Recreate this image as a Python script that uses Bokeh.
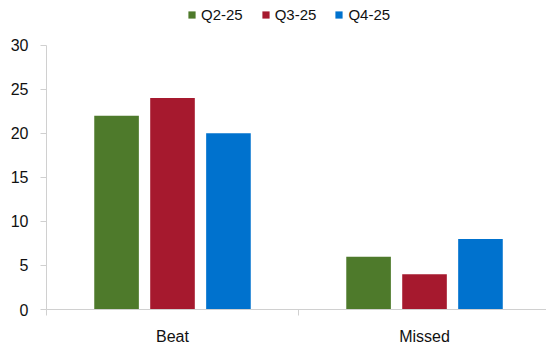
from bokeh.plotting import figure
from bokeh.models import ColumnDataSource, Range1d, FixedTicker, Legend, LegendItem
from bokeh.transform import dodge
from bokeh.embed import file_html
from bokeh.resources import INLINE

categories = ["Beat", "Missed"]
series = ["Q2-25", "Q3-25", "Q4-25"]
q2_25 = [22, 6]
q3_25 = [24, 4]
q4_25 = [20, 8]
colors = ["#4E7A2B", "#A6192E", "#0072CE"]
y_ticks = [0, 5, 10, 15, 20, 25, 30]

centers = [i + 0.5 for i in range(len(categories))]
source = ColumnDataSource(dict(x=centers, cat=categories,
                               q2=q2_25, q3=q3_25, q4=q4_25))

y_max = 30
# extra headroom above the axis so the legend fits inside the frame
y_top = y_max * 311 / 266

p = figure(width=546, height=347, output_backend="svg", toolbar_location=None,
           x_range=Range1d(0, 1.984), y_range=Range1d(0, y_top),
           min_border_left=46, min_border_right=0, min_border_top=0,
           min_border_bottom=36)
p.outline_line_color = None
p.xgrid.visible = False
p.ygrid.visible = False

step = 0.222
width = 0.177
renderers = []
for k, (field, col) in enumerate(zip(["q2", "q3", "q4"], colors)):
    r = p.vbar(x=dodge("x", (k - 1) * step, range=p.x_range), top=field,
               width=width, source=source, fill_color=col, line_color=None)
    renderers.append(r)

font = "Liberation Sans"
axis_col = "#D0D0D0"

p.yaxis.ticker = FixedTicker(ticks=y_ticks)
p.yaxis.bounds = (0, y_max)
p.yaxis.axis_line_color = axis_col
p.yaxis.major_tick_line_color = axis_col
p.yaxis.major_tick_out = 6
p.yaxis.major_tick_in = 0
p.yaxis.minor_tick_line_color = None
p.yaxis.major_label_text_font = font
p.yaxis.major_label_text_font_size = "16px"
p.yaxis.major_label_text_color = "#111111"
p.yaxis.major_label_standoff = 12

p.xaxis.ticker = FixedTicker(ticks=centers, minor_ticks=[0, 1, 2])
p.xaxis.major_label_overrides = {c: lab for c, lab in zip(centers, categories)}
p.xaxis.axis_line_color = axis_col
p.xaxis.major_tick_line_color = None
p.xaxis.major_tick_out = 0
p.xaxis.major_tick_in = 0
p.xaxis.minor_tick_line_color = axis_col
p.xaxis.minor_tick_out = 6
p.xaxis.minor_tick_in = 0
p.xaxis.major_label_text_font = font
p.xaxis.major_label_text_font_size = "16px"
p.xaxis.major_label_text_color = "#111111"
p.xaxis.major_label_standoff = 12

legend = Legend(items=[LegendItem(label=s, renderers=[r]) for s, r in zip(series, renderers)],
                orientation="horizontal", location=(141, 286),
                glyph_width=9, glyph_height=9, label_standoff=5, spacing=18,
                label_text_font=font, label_text_font_size="15px",
                label_text_color="#111111", border_line_color=None,
                background_fill_alpha=0, padding=0, margin=0)
p.add_layout(legend, "center")

open("out.html", "w").write(file_html(p, INLINE))
